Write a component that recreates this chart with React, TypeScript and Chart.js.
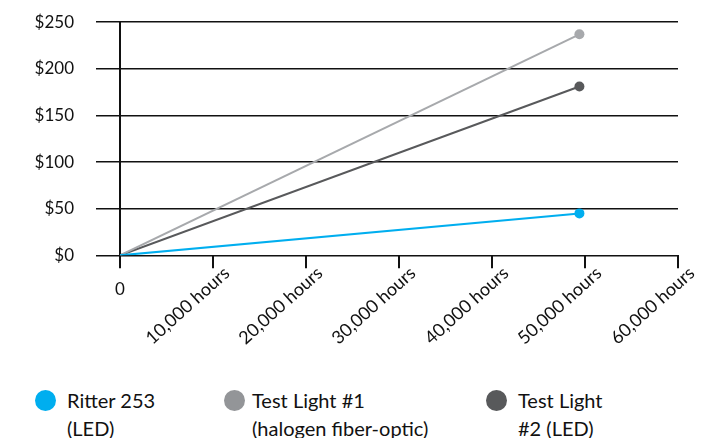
import { useEffect, useRef } from "react";
import type { FC, ReactElement } from "react";
import { Chart, registerables } from "chart.js";
import type { Plugin } from "chart.js";

Chart.register(...registerables);

// hours of use
const hours = [0, 49400];
// cost in dollars
const ritterCost = [0, 45];
const halogenCost = [0, 237];
const testLight2Cost = [0, 181];

const seriesLabels = ["Ritter 253", "Test Light #1", "Test Light #2"];
const legendLines = [
  ["Ritter 253", "(LED)"],
  ["Test Light #1", "(halogen fiber-optic)"],
  ["Test Light", "#2 (LED)"],
];
const lineColors = ["#00AEEF", "#A7A9AC", "#58595B"];
const legendColors = ["#00AEEF", "#939598", "#58595B"];
const legendDotX = [35, 224, 486];
const legendTextX = [67, 252, 518];

const FONT = "Lato, 'Open Sans', sans-serif";

// the "0" under the origin is drawn upright, the other x labels are tilted
const zeroLabel: Plugin<"line"> = {
  id: "zeroLabel",
  afterDraw(chart) {
    const x = chart.scales.x;
    const c = chart.ctx;
    c.save();
    c.font = `17px ${FONT}`;
    c.fillStyle = "#111";
    c.textAlign = "center";
    c.textBaseline = "top";
    c.fillText("0", x.getPixelForValue(0), x.top + 26);
    c.restore();
  },
};

const CostChart: FC = (): ReactElement => {
  const chartRef = useRef<HTMLCanvasElement | null>(null);
  const chartInstance = useRef<Chart | null>(null);

  useEffect(() => {
    if (!chartRef.current) return;
    const ctx = chartRef.current.getContext("2d") as CanvasRenderingContext2D;

    if (chartInstance.current) {
      chartInstance.current.destroy();
    }

    const series = [ritterCost, halogenCost, testLight2Cost];

    chartInstance.current = new Chart(ctx, {
      type: "line",
      data: {
        datasets: series.map((values, i) => ({
          label: seriesLabels[i],
          data: hours.map((h, j) => ({ x: h, y: values[j] })),
          borderColor: lineColors[i],
          backgroundColor: lineColors[i],
          borderWidth: 2,
          pointRadius: [0, 5],
          pointHoverRadius: [0, 5],
          pointBorderWidth: 0,
          tension: 0,
        })),
      },
      options: {
        animation: false,
        responsive: false,
        maintainAspectRatio: false,
        layout: { padding: { top: 0, right: 31, left: 0, bottom: 0 } },
        plugins: {
          legend: { display: false },
          tooltip: { enabled: false },
        },
        scales: {
          x: {
            type: "linear",
            min: 0,
            max: 60000,
            // extra room so the pulled-up labels are not clipped
            afterFit: (scale) => {
              scale.height += 20;
            },
            ticks: {
              stepSize: 10000,
              minRotation: 42,
              maxRotation: 42,
              padding: -6,
              labelOffset: 14,
              color: "#111",
              font: { family: FONT, size: 18 },
              callback: (v) =>
                Number(v) === 0 ? "" : `${Number(v).toLocaleString("en-US")} hours`,
            },
            grid: {
              drawOnChartArea: false,
              drawTicks: true,
              tickLength: 13,
              color: "#111",
              lineWidth: 2,
            },
            border: { display: false },
          },
          y: {
            min: 0,
            max: 250,
            afterFit: (scale) => {
              scale.width = 120;
            },
            ticks: {
              stepSize: 50,
              padding: 22,
              color: "#111",
              font: { family: FONT, size: 17 },
              callback: (v) => `$${v}`,
            },
            grid: {
              color: "#111",
              lineWidth: 1.5,
              tickLength: 24,
            },
            border: { display: true, color: "#111", width: 2 },
          },
        },
      },
      plugins: [zeroLabel],
    }) as Chart;

    return () => {
      if (chartInstance.current) {
        chartInstance.current.destroy();
        chartInstance.current = null;
      }
    };
  }, []);

  return (
    <div
      style={{
        position: "absolute",
        left: 0,
        top: 0,
        width: 709,
        height: 438,
        background: "#fff",
        fontFamily: FONT,
        overflow: "hidden",
      }}
    >
      <canvas
        ref={chartRef}
        width={709}
        height={373}
        style={{ position: "absolute", left: 0, top: -10 }}
      />
      {legendLines.map((lines, i) => (
        <div key={seriesLabels[i]}>
          <span
            style={{
              position: "absolute",
              left: legendDotX[i],
              top: 390,
              width: 21,
              height: 21,
              borderRadius: "50%",
              background: legendColors[i],
            }}
          />
          <div
            style={{
              position: "absolute",
              left: legendTextX[i],
              top: 386,
              fontSize: 20,
              lineHeight: "28px",
              color: "#111",
              whiteSpace: "nowrap",
            }}
          >
            {lines.map((l) => (
              <div key={l}>{l}</div>
            ))}
          </div>
        </div>
      ))}
    </div>
  );
};

export default function App(): ReactElement {
  return <CostChart />;
}
